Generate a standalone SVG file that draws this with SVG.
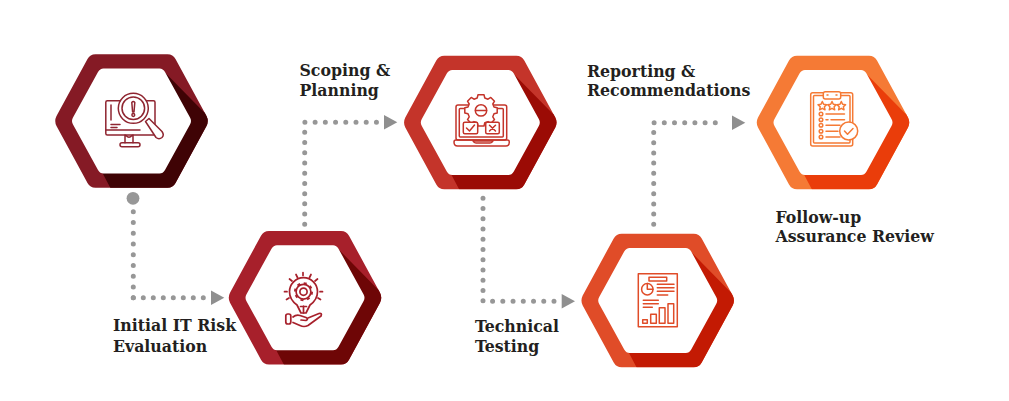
<svg xmlns="http://www.w3.org/2000/svg" width="1009" height="401" viewBox="0 0 1009 401">
<style>
.lbl{font-family:"DejaVu Serif Condensed","DejaVu Serif",serif;font-weight:700;font-size:17.5px;fill:#231f20}
.dots{fill:none;stroke:#979797;stroke-width:5;stroke-linecap:round}
.ic{fill:none;stroke-width:1.5;stroke-linecap:round;stroke-linejoin:round}
.ic .w{fill:#fff}
</style>
<defs>
<path id="hex-outer" d="M-36 -66.7H36Q41.5 -66.7 44 -62L75 -5Q77.5 0 75 5L44 62Q41.5 66.7 36 66.7H-36Q-41.5 66.7 -44 62L-75 5Q-77.5 0 -75 -5L-44 -62Q-41.5 -66.7 -36 -66.7Z"/>
<path id="hex-inner" d="M-28 -52.5H28Q31.5 -52.5 33.5 -49L58.5 -3.5Q60.5 0 58.5 3.5L33.5 49Q31.5 52.5 28 52.5H-28Q-31.5 52.5 -33.5 49L-58.5 3.5Q-60.5 0 -58.5 -3.5L-33.5 -49Q-31.5 -52.5 -28 -52.5Z"/>
<clipPath id="hex-clip"><use href="#hex-outer"/></clipPath>
<path id="hex-dark" d="M33 -49L72 -9.3L90 0V80H-14.2L-29 52Z" clip-path="url(#hex-clip)"/>
<marker id="tri" markerUnits="userSpaceOnUse" orient="auto" overflow="visible" markerWidth="30" markerHeight="20" refX="0" refY="0">
<path d="M7.2 -7.2L20.5 0L7.2 7.2Z" fill="#8f8f8f"/>
</marker>
</defs>

<g id="connectors">
<circle cx="133" cy="198.3" r="6.4" fill="#979797"/>
<path class="dots" d="M133.3 211.7V297.7" stroke-dasharray="0 10.75"/>
<path class="dots" d="M133.3 297.7H203.8" stroke-dasharray="0 10" marker-end="url(#tri)"/>
<path class="dots" d="M304.7 224.3V122.3H376.8" stroke-dasharray="0 10.22" marker-end="url(#tri)"/>
<path class="dots" d="M483 198.3V301.3H554.5" stroke-dasharray="0 10.235" marker-end="url(#tri)"/>
<path class="dots" d="M653.7 224.3V122.7H724.8" stroke-dasharray="0 10.2" marker-end="url(#tri)"/>
</g>

<g id="node1">
<g transform="translate(131.5 121)">
<use href="#hex-outer" fill="#851a25"/><use href="#hex-dark" fill="#3f0305"/><use href="#hex-inner" fill="#fff"/>
</g>
<g class="ic" stroke="#8f2530">
<rect x="105.8" y="100.8" width="49.2" height="34.2" rx="1.5"/>
<path d="M111 105V120M111 124.5H120M111 127.5H117M106 130H140"/>
<path d="M125 135V142.7M133 135V142.7M126 135.5Q129 139 132 135.5"/>
<rect x="120" y="142.7" width="20" height="4" rx="2"/>
<path class="w" d="M145.5 121.5L149 118.5L162 131.5Q164.5 135 162 137.5Q159 140 156 137.5Z"/>
<circle class="w" cx="133.3" cy="108.3" r="15"/>
<circle cx="133.3" cy="108.3" r="11.3"/>
<path d="M131.8 102.5Q133.3 100.5 134.8 102.5L134 112H132.6Z"/>
<circle cx="133.3" cy="115" r="1.4"/>
</g>
</g>

<g id="node2">
<g transform="translate(305 297.7)">
<use href="#hex-outer" fill="#a7202b"/><use href="#hex-dark" fill="#6e0606"/><use href="#hex-inner" fill="#fff"/>
</g>
<g class="ic" stroke="#a7202b" style="stroke-width:1.7">
<path d="M301 313L297 305Q289.5 299.5 289.5 291.7A14 14 0 0 1 317.5 291.7Q317.5 299.5 310 305L306 313Z"/>
<circle cx="303.5" cy="291.7" r="3.6"/>
<circle cx="303.5" cy="291.7" r="7.4"/>
<circle cx="303.5" cy="291.7" r="8.6" stroke-dasharray="3 3.75" stroke-linecap="butt" style="stroke-width:1.8"/>
<path d="M303.5 306V313M300.5 306.5H306.5"/>
<path d="M303 272.5V275.5M296 274.5L297.5 277.5M311 274.5L309.5 277.5M289.5 279L292 281M317.5 279L315 281M284.5 291.7H287M320 291.7H322.5M286.5 299.5L289 298M320.5 299.5L318 298"/>
<rect x="285.8" y="314" width="5" height="10" rx="2"/>
<path d="M293 317Q296 314.5 300 315.5L306 317.5Q309 319 306 320.5L301 320M308 318L319 313.5Q322.5 313 321 316L308 325.5Q304 327.5 300 325.5L293 322.5"/>
</g>
</g>

<g id="node3">
<g transform="translate(480.3 122.5)">
<use href="#hex-outer" fill="#c4342a"/><use href="#hex-dark" fill="#9b0b05"/><use href="#hex-inner" fill="#fff"/>
</g>
<g class="ic" stroke="#c4342a">
<rect x="456" y="105" width="50.7" height="35" rx="2"/>
<rect x="459.3" y="108.5" width="44" height="28.5" rx="1"/>
<path d="M456 140H507.5Q509.3 140 509.3 142Q509.3 146 506 146H457.5Q454 146 454 142Q454 140 456 140Z"/>
<path d="M473 141H493Q492 143 490 143H476Q474 143 473 141Z"/>
<path class="w" d="M478 94.8H484L484.8 98L488 99.2L490.8 97.4L494.5 101.2L492.8 104L494 107L497.2 107.8V113L494 113.8L492.8 116.8L494.5 119.6L490.8 123.4L488 121.6L484.8 122.8L484 126H478L477.2 122.8L474 121.6L471.2 123.4L467.5 119.6L469.2 116.8L468 113.8L464.8 113V107.8L468 107L469.2 104L467.5 101.2L471.2 97.4L474 99.2L477.2 98Z"/>
<circle cx="481" cy="110.4" r="5.7"/>
<path d="M475.5 110.4H486.5"/>
<rect class="w" x="463.3" y="122.3" width="14.4" height="11.4" rx="1.5"/>
<path d="M466.5 128L469.5 131L474.5 125"/>
<rect class="w" x="485.7" y="122.3" width="13.6" height="11.4" rx="1.5"/>
<path d="M489.5 125.2L495.5 131M495.5 125.2L489.5 131"/>
</g>
</g>

<g id="node4">
<g transform="translate(657.7 300.5)">
<use href="#hex-outer" fill="#e04c28"/><use href="#hex-dark" fill="#c31a03"/><use href="#hex-inner" fill="#fff"/>
</g>
<g class="ic" stroke="#e04c28">
<rect x="638.3" y="273.7" width="39" height="53"/>
<rect x="649" y="277.3" width="17.7" height="3.8"/>
<circle cx="647.3" cy="289.3" r="5.7"/>
<path d="M647.3 283.6V289.3H653"/>
<path d="M657.3 284.3H674M657.3 287.7H674M657.3 291.3H674M657.3 295H667.7M643.3 300.3H658.3M643.3 303.7H658.3M643.3 307.3H652.3"/>
<rect x="642.7" y="319.7" width="4.6" height="3.6"/>
<rect x="650.7" y="314.3" width="5.6" height="9"/>
<rect x="659.3" y="307.7" width="5.7" height="15.6"/>
<rect x="668" y="303.7" width="5.7" height="19.6"/>
</g>
</g>

<g id="node5">
<g transform="translate(833 122.5)">
<use href="#hex-outer" fill="#f57a35"/><use href="#hex-dark" fill="#ea3d0a"/><use href="#hex-inner" fill="#fff"/>
</g>
<g class="ic" stroke="#f57a35">
<rect x="810.7" y="92.7" width="42" height="53.3" rx="2"/>
<rect x="813.5" y="95.5" width="36.5" height="47.5" rx="1"/>
<rect class="w" x="823.3" y="91.7" width="17.4" height="7.3" rx="2"/>
<path d="M827 95H828M836 95H837"/>
<path d="M822.3 101.5L823.6 104.3L826.6 104.7L824.4 106.8L825 109.8L822.3 108.3L819.6 109.8L820.2 106.8L818 104.7L821 104.3Z"/>
<path d="M832 101.5L833.3 104.3L836.3 104.7L834.1 106.8L834.7 109.8L832 108.3L829.3 109.8L829.9 106.8L827.7 104.7L830.7 104.3Z"/>
<path d="M841.3 101.5L842.6 104.3L845.6 104.7L843.4 106.8L844 109.8L841.3 108.3L838.6 109.8L839.2 106.8L837 104.7L840 104.3Z"/>
<circle cx="821" cy="114" r="1.8"/><circle cx="821" cy="119.7" r="1.8"/><circle cx="821" cy="125.3" r="1.8"/><circle cx="821" cy="131.3" r="1.8"/><circle cx="821" cy="137" r="1.8"/>
<path d="M826 114H844.5M826 119.7H828M831 119.7H844.5M826 125.3H840M826 131.3H838M826 137H840"/>
<circle class="w" cx="848.7" cy="131" r="9"/>
<path d="M844.5 131L847.5 134.3L853 128.5"/>
</g>
</g>

<g id="labels">
<text class="lbl" x="113" y="330.5">Initial IT Risk</text>
<text class="lbl" x="113" y="351.5">Evaluation</text>
<text class="lbl" x="299.5" y="75.7">Scoping &amp;</text>
<text class="lbl" x="299.5" y="95.7">Planning</text>
<text class="lbl" x="475" y="332">Technical</text>
<text class="lbl" x="475" y="351.7">Testing</text>
<text class="lbl" x="587" y="76.5">Reporting &amp;</text>
<text class="lbl" x="587" y="96">Recommendations</text>
<text class="lbl" x="775.5" y="222.7">Follow-up</text>
<text class="lbl" x="775.5" y="242">Assurance Review</text>
</g>
</svg>
